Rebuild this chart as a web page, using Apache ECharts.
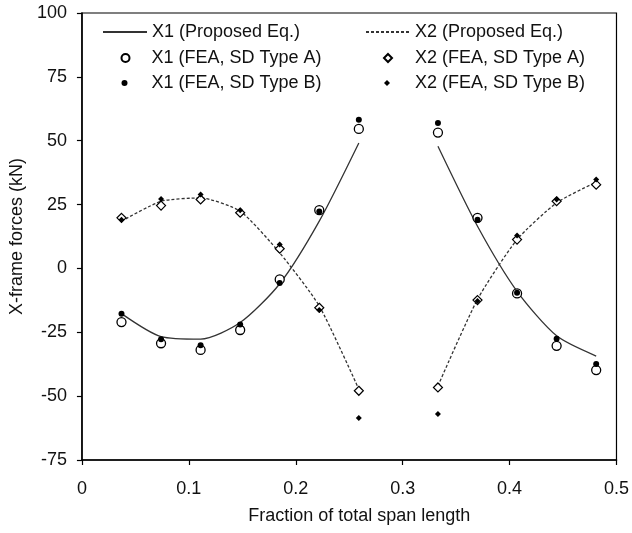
<!DOCTYPE html>
<html>
<head>
<meta charset="utf-8">
<script src="https://cdn.jsdelivr.net/npm/echarts@6/dist/echarts.min.js"></script>
<style>
html,body{margin:0;padding:0;background:#fff;}
#chart{width:632px;height:533px;}
</style>
</head>
<body>
<div id="chart"></div>
<script>
// Fraction of total span length (x positions of X-frames)
const spanFractions = [0.037, 0.074, 0.111, 0.148, 0.185, 0.222, 0.259, 0.296, 0.333, 0.370, 0.407, 0.444, 0.481];
// X-frame forces (kN); null = no X-frame at midspan
const x1Proposed = [-17.7, -26.7, -27.7, -21.2, -6.0, 18.5, 49.1, null, 47.8, 16.5, -9.0, -26.4, -34.3];
const x2Proposed = [18.5, 26.3, 27.6, 22.4, 6.1, -14.7, -47.3, null, -46.0, -12.1, 11.3, 25.7, 33.8];
const x1TypeA = [-21.0, -29.3, -31.9, -24.1, -4.3, 22.8, 54.6, null, 53.2, 19.8, -9.8, -30.3, -39.8];
const x1TypeB = [-17.7, -27.7, -30.1, -22.0, -5.7, 22.3, 58.2, null, 56.9, 19.1, -9.5, -27.5, -37.4];
const x2TypeA = [19.8, 24.6, 27.0, 21.8, 7.7, -15.4, -47.9, null, -46.6, -12.4, 11.3, 26.3, 32.8];
const x2TypeB = [19.1, 27.2, 28.9, 22.8, 9.4, -16.3, -58.6, null, -57.0, -12.8, 12.9, 27.0, 34.8];
const seriesNames = ['X1 (Proposed Eq.)', 'X2 (Proposed Eq.)', 'X1 (FEA, SD Type A)', 'X2 (FEA, SD Type A)', 'X1 (FEA, SD Type B)', 'X2 (FEA, SD Type B)'];
const xTicks = {min: 0, max: 0.5, interval: 0.1};
const yTicks = {min: -75, max: 100, interval: 25};

const FONT = 'Liberation Sans, Arial, sans-serif';
const INK = '#111';

function linePairs(vals) {
  return spanFractions.map((x, i) => [x, vals[i] == null ? '-' : vals[i]]);
}
function pointPairs(vals) {
  const out = [];
  spanFractions.forEach((x, i) => { if (vals[i] != null) out.push([x, vals[i]]); });
  return out;
}

const chart = echarts.init(document.getElementById('chart'), null, {renderer: 'canvas'});

const textStyle = {fontFamily: FONT, fontSize: 18, color: INK};

function legendFor(name, left, top, w, h, padLeft, hideSymbol) {
  const item = hideSymbol ? {name: name, itemStyle: {opacity: 0, color: 'rgba(0,0,0,0)', borderWidth: 0}} : {name: name};
  return {
    data: [item], left: left, top: top, orient: 'vertical', padding: 0,
    itemWidth: w, itemHeight: h, selectedMode: false,
    textStyle: Object.assign({}, textStyle, {padding: [0, 0, 0, padLeft]})
  };
}

const option = {
  backgroundColor: '#fff',
  animation: false,
  textStyle: {fontFamily: FONT},
  grid: {left: 77, right: 15, top: 13, bottom: 73, show: true, borderColor: '#000', borderWidth: 1.2, backgroundColor: 'transparent'},
  legend: [
    legendFor(seriesNames[0], 102, 23, 44, 14, 0, true),
    legendFor(seriesNames[2], 120.5, 49, 8, 8, 17, false),
    legendFor(seriesNames[4], 121.5, 74, 6, 6, 19, false),
    legendFor(seriesNames[1], 365, 23, 44, 14, 0, true),
    legendFor(seriesNames[3], 383, 49, 8, 8, 18, false),
    legendFor(seriesNames[5], 384, 74, 6, 6, 20, false)
  ],
  xAxis: {
    type: 'value', min: xTicks.min, max: xTicks.max, interval: xTicks.interval,
    name: 'Fraction of total span length', nameLocation: 'middle', nameGap: 47,
    nameTextStyle: Object.assign({}, textStyle, {padding: [0, 0, 0, 20]}),
    axisLine: {onZero: false, lineStyle: {color: '#000', width: 1.5}},
    axisTick: {show: true, inside: false, length: 5, lineStyle: {color: '#000', width: 1.2}},
    axisLabel: Object.assign({}, textStyle, {margin: 20, formatter: v => (v === 0 ? '0' : String(+v.toFixed(1)))}),
    splitLine: {show: false}
  },
  yAxis: {
    type: 'value', min: yTicks.min, max: yTicks.max, interval: yTicks.interval,
    name: 'X-frame forces (kN)', nameLocation: 'middle', nameGap: 48,
    nameTextStyle: Object.assign({}, textStyle, {padding: [0, 0, 0, 0]}),
    axisLine: {show: true, onZero: false, lineStyle: {color: '#000', width: 1.5}},
    axisTick: {show: true, inside: false, length: 5, lineStyle: {color: '#000', width: 1.2}},
    axisLabel: Object.assign({}, textStyle, {margin: 15}),
    splitLine: {show: false}
  },
  series: [
    {
      name: seriesNames[0], type: 'line', data: linePairs(x1Proposed), showSymbol: false, symbol: 'none',
      smooth: 0.25, connectNulls: false, z: 2,
      lineStyle: {color: '#333', width: 1.3, type: 'solid'}, itemStyle: {color: '#333'}
    },
    {
      name: seriesNames[1], type: 'line', data: linePairs(x2Proposed), showSymbol: false, symbol: 'none',
      smooth: 0.2, connectNulls: false, z: 2,
      lineStyle: {color: '#333', width: 1.3, type: [3, 2]}, itemStyle: {color: '#333'}
    },
    {
      name: seriesNames[2], type: 'scatter', data: pointPairs(x1TypeA), symbol: 'circle', symbolSize: 9, z: 3,
      itemStyle: {color: '#fff', borderColor: '#000', borderWidth: 1.3, opacity: 1}
    },
    {
      name: seriesNames[3], type: 'scatter', data: pointPairs(x2TypeA), symbol: 'diamond', symbolSize: 9, z: 3,
      itemStyle: {color: '#fff', borderColor: '#000', borderWidth: 1.2, opacity: 1}
    },
    {
      name: seriesNames[4], type: 'scatter', data: pointPairs(x1TypeB), symbol: 'circle', symbolSize: 6, z: 4,
      itemStyle: {color: '#000', opacity: 1}
    },
    {
      name: seriesNames[5], type: 'scatter', data: pointPairs(x2TypeB), symbol: 'diamond', symbolSize: 6, z: 4,
      itemStyle: {color: '#000', opacity: 1}
    }
  ]
};
chart.setOption(option);
</script>
</body>
</html>
